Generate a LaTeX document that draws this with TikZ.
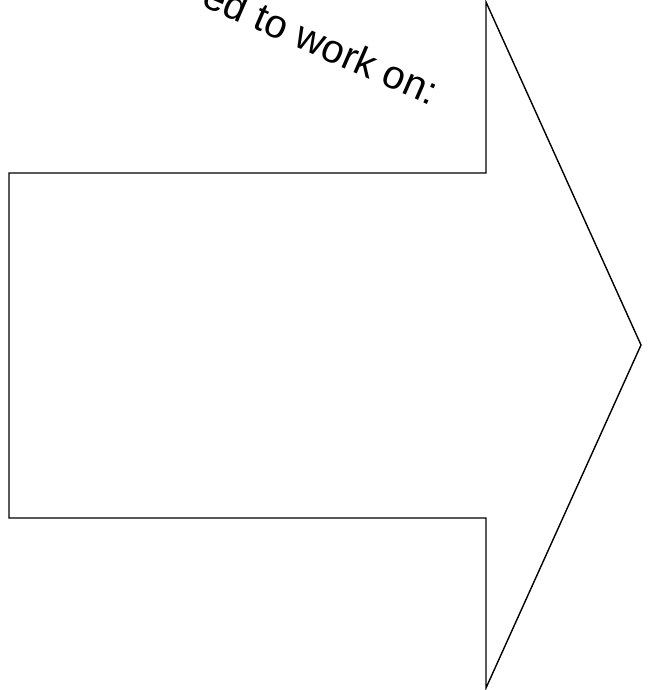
\documentclass[tikz,border=0pt]{standalone}
\usepackage{fontspec}
\setmainfont{Liberation Sans}
\begin{document}
\begin{tikzpicture}[x=1pt,y=-1pt,
  arrowshape/.style={draw=black,line width=1.4pt,line join=miter},
  labeltext/.style={font=\fontsize{40}{48}\selectfont,inner sep=0pt,rotate=-23.5}]
\useasboundingbox (0,0) rectangle (654,690);
\begin{scope}
\clip (0,0) rectangle (654,690);
\draw[arrowshape] (9,173) -- (486,173) -- (486,2) -- (641,345) -- (486,688) -- (486,518) -- (9,518) -- cycle;
\node[labeltext,anchor=base east] (lbl) at (431,106) {ed to work on:};
\end{scope}
\end{tikzpicture}
\end{document}
